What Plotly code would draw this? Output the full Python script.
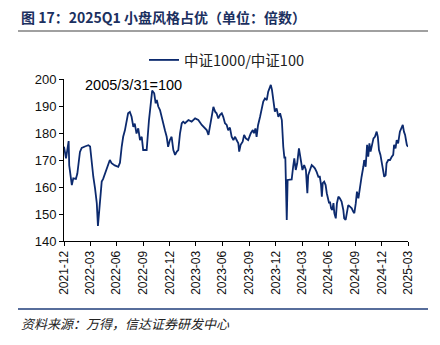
import plotly.graph_objects as go

dates = [
"2021-12-31","2022-01-07","2022-01-16","2022-01-18","2022-01-27","2022-02-01","2022-02-10","2022-02-15","2022-02-24","2022-03-02",
"2022-03-13","2022-03-25","2022-03-31","2022-04-05","2022-04-11","2022-04-17","2022-04-23","2022-04-27","2022-05-04","2022-05-10",
"2022-05-15","2022-05-27","2022-06-07","2022-06-13","2022-06-24","2022-07-06","2022-07-12","2022-07-18","2022-07-23","2022-07-29",
"2022-08-09","2022-08-15","2022-08-21","2022-08-27","2022-09-01","2022-09-07","2022-09-13","2022-09-19","2022-09-25","2022-09-30",
"2022-10-12","2022-10-20","2022-10-27","2022-10-31","2022-11-07","2022-11-12","2022-11-16","2022-11-21","2022-11-27","2022-12-02",
"2022-12-08","2022-12-14","2022-12-20","2022-12-25","2022-12-31","2023-01-06","2023-01-12","2023-01-18","2023-01-24","2023-01-29",
"2023-02-04","2023-02-10","2023-02-15","2023-02-21","2023-03-05","2023-03-16","2023-03-28","2023-04-08","2023-04-20","2023-05-01",
"2023-05-07","2023-05-13","2023-05-18","2023-05-24","2023-05-30","2023-06-05","2023-06-10","2023-06-16","2023-06-22","2023-06-28",
"2023-07-03","2023-07-09","2023-07-15","2023-07-20","2023-07-26","2023-08-01","2023-08-07","2023-08-13","2023-08-18","2023-08-24",
"2023-08-27","2023-09-01","2023-09-08","2023-09-13","2023-09-19","2023-09-27","2023-10-06","2023-10-13","2023-10-17","2023-10-22",
"2023-10-26","2023-10-31","2023-11-07","2023-11-13","2023-11-18","2023-11-24","2023-11-30","2023-12-05","2023-12-14","2023-12-18",
"2023-12-23","2023-12-28","2024-01-03","2024-01-09","2024-01-15","2024-01-21","2024-01-26","2024-01-30","2024-02-02","2024-02-07",
"2024-02-10","2024-02-16","2024-02-24","2024-02-29","2024-03-04","2024-03-09","2024-03-14","2024-03-20","2024-03-26","2024-04-01",
"2024-04-07","2024-04-10","2024-04-13","2024-04-18","2024-04-21","2024-04-27","2024-05-03","2024-05-09","2024-05-14","2024-05-20",
"2024-05-26","2024-05-31","2024-06-04","2024-06-07","2024-06-10","2024-06-15","2024-06-20","2024-06-24","2024-06-27","2024-07-02",
"2024-07-05","2024-07-09","2024-07-13","2024-07-17","2024-07-20","2024-07-25","2024-07-29","2024-08-03","2024-08-08","2024-08-14",
"2024-08-20","2024-08-23","2024-08-28","2024-09-02","2024-09-06","2024-09-12","2024-09-18","2024-09-23","2024-09-27","2024-10-02",
"2024-10-06","2024-10-11","2024-10-17","2024-10-22","2024-10-28","2024-10-31","2024-11-05","2024-11-10","2024-11-14","2024-11-18",
"2024-11-22","2024-11-28","2024-12-02","2024-12-07","2024-12-13","2024-12-17","2024-12-21","2024-12-26","2024-12-30","2025-01-04",
"2025-01-08","2025-01-13","2025-01-16","2025-01-22","2025-01-28","2025-02-03","2025-02-08","2025-02-11","2025-02-16","2025-02-20",
"2025-02-25","2025-03-03","2025-03-09","2025-03-13","2025-03-17","2025-03-21","2025-03-24","2025-03-27","2025-03-31",
]
ratio = [
174.9,170.6,177.0,168.0,160.7,163.2,163.0,165.0,173.0,174.5,
175.0,175.5,175.0,168.8,163.8,159.5,154.0,145.6,155.2,162.0,
163.0,166.3,170.0,168.8,168.0,167.5,169.0,175.0,178.6,181.0,
187.3,187.8,186.0,182.3,183.5,179.8,181.7,177.4,178.6,173.7,
173.7,184.8,193.4,195.7,194.7,191.0,192.2,189.8,188.5,186.0,
183.0,181.0,178.6,174.9,177.4,178.6,173.7,171.9,173.1,173.7,
179.9,183.6,184.2,183.6,184.8,184.2,185.4,184.8,183.0,181.7,
181.1,179.3,183.0,186.0,189.7,187.9,187.3,185.4,186.7,187.3,
186.0,183.6,183.0,181.0,182.0,178.6,177.4,178.6,177.4,176.2,
173.1,175.6,176.8,179.3,178.0,177.4,179.9,181.1,179.9,181.7,
178.6,182.9,186.0,188.5,191.6,192.8,192.2,195.3,197.8,196.0,
191.0,187.9,189.1,186.0,187.3,184.8,174.9,170.6,171.2,147.8,
162.6,162.8,162.8,167.5,170.6,166.3,168.8,174.3,169.9,166.3,
168.1,166.9,166.3,157.7,164.4,166.3,168.1,167.5,166.9,165.6,
163.8,163.8,161.0,156.4,161.4,162.0,160.7,157.7,156.4,154.0,
154.6,152.1,151.5,154.0,150.3,148.4,154.0,156.4,155.8,154.6,
151.5,148.4,147.8,151.5,153.3,152.7,152.1,150.9,150.3,154.0,
158.3,155.8,160.7,163.8,167.5,170.0,167.5,175.6,171.2,176.2,
173.1,176.2,178.0,178.6,180.5,178.6,173.7,171.9,169.4,165.7,
163.8,164.4,168.8,170.0,170.0,171.2,171.9,175.6,174.3,177.4,
176.2,180.5,181.7,183.0,180.5,179.3,177.4,175.6,174.9,
]

tick_vals = ["2021-12-31","2022-03-31","2022-06-30","2022-09-30","2022-12-31","2023-03-31","2023-06-30",
             "2023-09-30","2023-12-31","2024-03-31","2024-06-30","2024-09-30","2024-12-31","2025-03-31"]
tick_text = ["2021-12","2022-03","2022-06","2022-09","2022-12","2023-03","2023-06",
             "2023-09","2023-12","2024-03","2024-06","2024-09","2024-12","2025-03"]
y_ticks = [140, 150, 160, 170, 180, 190, 200]

series_name = "中证1000/中证100"
title = "图 17：2025Q1 小盘风格占优（单位：倍数）"
source = "资料来源：万得，信达证券研发中心"
note = "2005/3/31=100"

navy = "#0c2a6e"
font_lat = "Liberation Sans, Arial, sans-serif"
font_cjk = "Noto Sans CJK SC, sans-serif"

fig = go.Figure()
fig.add_trace(go.Scatter(x=dates, y=ratio, mode="lines", name=series_name,
                         line=dict(color=navy, width=1.8)))

# plot area: x 64..408, y 79..241 (pixels)
L, R, T, B = 64, 408, 79, 241
W, H = R - L, B - T
def px(x):
    return (x - L) / W
def py(y):
    return (B - y) / H

fig.update_layout(
    width=440, height=345,
    margin=dict(l=L, r=440 - R, t=T, b=345 - B, pad=0),
    paper_bgcolor="white", plot_bgcolor="white",
    showlegend=True,
    legend=dict(orientation="h", x=px(144), y=py(60), xanchor="left", yanchor="middle",
                font=dict(family=font_cjk, size=14.5, color="#222"),
                bgcolor="rgba(0,0,0,0)", itemwidth=30),
    xaxis=dict(type="date", range=["2021-12-31", "2025-03-31"], tickvals=tick_vals, ticktext=tick_text,
               tickangle=-90, showgrid=False, zeroline=False, showline=True, linecolor="#000", linewidth=1,
               ticks="outside", ticklen=4, tickcolor="#000",
               tickfont=dict(family=font_lat, size=12, color="#111")),
    yaxis=dict(range=[140, 200], tickvals=y_ticks, showgrid=False, zeroline=False, showline=True,
               linecolor="#000", linewidth=1, ticks="outside", ticklen=4, tickcolor="#000",
               tickfont=dict(family=font_lat, size=13, color="#111")),
)

fig.add_annotation(text="<b>" + title + "</b>", xref="paper", yref="paper", x=px(19), y=py(17),
                   xanchor="left", yanchor="middle", showarrow=False,
                   font=dict(family=font_cjk, size=14, color="#1b3060"))
fig.add_annotation(text=note, xref="paper", yref="paper", x=px(83), y=py(85),
                   xanchor="left", yanchor="middle", showarrow=False,
                   font=dict(family=font_lat, size=14.5, color="#000"))
fig.add_annotation(text=source, xref="paper", yref="paper", x=px(19), y=py(323),
                   xanchor="left", yanchor="middle", showarrow=False,
                   font=dict(family=font_cjk, size=13, color="#222", style="italic"))

fig.add_shape(type="line", xref="paper", yref="paper", x0=px(18), x1=px(428), y0=py(31), y1=py(31),
              line=dict(color="#808080", width=1.5))
fig.add_shape(type="line", xref="paper", yref="paper", x0=px(18), x1=px(428), y0=py(309), y1=py(309),
              line=dict(color="#1f3c7a", width=1.5))

fig.write_html("out.html")
